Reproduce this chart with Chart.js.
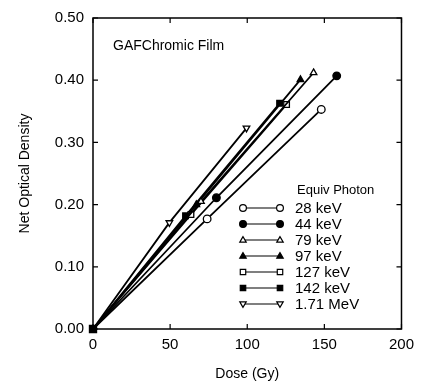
<!DOCTYPE html>
<html>
<head>
<meta charset="utf-8">
<script src="https://cdn.jsdelivr.net/npm/chart.js@4.4.1/dist/chart.umd.min.js"></script>
<style>
  html, body { margin: 0; padding: 0; background: #fff; }
  #wrap { width: 421px; height: 384px; }
</style>
</head>
<body>
<div id="wrap"><canvas id="odChart" width="421" height="384"></canvas></div>
<script>
// dose (Gy) and net optical density, origin included
const seriesNames = ['28 keV', '44 keV', '79 keV', '97 keV', '127 keV', '142 keV', '1.71 MeV'];
const dose28 = [0, 74, 148];        const od28 = [0, 0.177, 0.353];
const dose44 = [0, 80, 158];        const od44 = [0, 0.211, 0.407];
const dose79 = [0, 70, 143];        const od79 = [0, 0.205, 0.412];
const dose97 = [0, 67, 134.5];      const od97 = [0, 0.200, 0.401];
const dose127 = [0, 63.5, 125.5];   const od127 = [0, 0.184, 0.361];
const dose142 = [0, 60, 121];       const od142 = [0, 0.182, 0.363];
const dose171 = [0, 49.5, 99.5];    const od171 = [0, 0.171, 0.323];
const xTicks = [0, 50, 100, 150, 200];
const yTicks = [0, 0.1, 0.2, 0.3, 0.4, 0.5];

const FONT = '"Liberation Sans", Arial, sans-serif';

// marker per series: shape, filled?, rotation
const markers = [
    { style: 'circle', fill: false, rot: 0 },
    { style: 'circle', fill: true, rot: 0 },
    { style: 'triangle', fill: false, rot: 0 },
    { style: 'triangle', fill: true, rot: 0 },
    { style: 'rect', fill: false, rot: 0 },
    { style: 'rect', fill: true, rot: 0 },
    { style: 'triangle', fill: false, rot: 180 }
];
const doses = [dose28, dose44, dose79, dose97, dose127, dose142, dose171];
const ods = [od28, od44, od79, od97, od127, od142, od171];

const datasets = seriesNames.map((name, i) => {
    const m = markers[i];
    const isOriginSq = i === 5;
    return {
        label: name,
        data: doses[i].map((d, j) => ({ x: d, y: ods[i][j] })),
        borderColor: '#000',
        borderWidth: 1.8,
        showLine: true,
        clip: false,
        pointStyle: m.style,
        rotation: m.rot,
        pointRadius: doses[i].map((d, j) => j === 0 ? (isOriginSq ? 5 : 0) : (m.style === 'rect' ? 4 : 3.8)),
        pointBorderWidth: 1.3,
        pointBorderColor: '#000',
        pointBackgroundColor: m.fill ? '#000' : '#fff'
    };
});

function drawMarker(ctx, m, x, y, r) {
    ctx.save();
    ctx.beginPath();
    if (m.style === 'circle') {
        ctx.arc(x, y, r, 0, Math.PI * 2);
    } else if (m.style === 'rect') {
        ctx.rect(x - r * 0.8, y - r * 0.8, r * 1.6, r * 1.6);
    } else {
        const s = m.rot ? -1 : 1;
        ctx.moveTo(x, y - s * r);
        ctx.lineTo(x - r * 0.95, y + s * r * 0.65);
        ctx.lineTo(x + r * 0.95, y + s * r * 0.65);
        ctx.closePath();
    }
    ctx.fillStyle = m.fill ? '#000' : '#fff';
    ctx.fill();
    ctx.lineWidth = 1.2;
    ctx.strokeStyle = '#000';
    ctx.stroke();
    ctx.restore();
}

const framePlugin = {
    id: 'frame',
    afterDraw(chart) {
        const ctx = chart.ctx;
        const a = chart.chartArea;
        const xs = chart.scales.x, ys = chart.scales.y;
        ctx.save();
        ctx.strokeStyle = '#000';
        ctx.lineWidth = 1.5;
        ctx.strokeRect(a.left, a.top, a.right - a.left, a.bottom - a.top);
        ctx.lineWidth = 1.2;
        ctx.beginPath();
        xTicks.forEach(v => {
            const px = xs.getPixelForValue(v);
            ctx.moveTo(px, a.bottom); ctx.lineTo(px, a.bottom - 5);
            ctx.moveTo(px, a.top); ctx.lineTo(px, a.top + 5);
        });
        yTicks.forEach(v => {
            const py = ys.getPixelForValue(v);
            ctx.moveTo(a.left, py); ctx.lineTo(a.left + 5, py);
            ctx.moveTo(a.right, py); ctx.lineTo(a.right - 5, py);
        });
        ctx.stroke();

        // annotation
        ctx.fillStyle = '#000';
        ctx.font = '14px ' + FONT;
        ctx.textBaseline = 'middle';
        ctx.textAlign = 'left';
        ctx.fillText('GAFChromic Film', 113, 46);

        // legend
        ctx.font = '13px ' + FONT;
        ctx.fillText('Equiv Photon', 297, 190);
        ctx.font = '15px ' + FONT;
        seriesNames.forEach((name, i) => {
            const y = 208 + i * 16;
            ctx.beginPath();
            ctx.lineWidth = 1.1;
            ctx.moveTo(245, y); ctx.lineTo(278, y);
            ctx.stroke();
            drawMarker(ctx, markers[i], 243, y, 3.4);
            drawMarker(ctx, markers[i], 280, y, 3.4);
            ctx.fillText(name, 295, y + 1);
        });
        ctx.restore();
    }
};

const ctx = document.getElementById('odChart').getContext('2d');
const odChart = new Chart(ctx, {
    type: 'scatter',
    data: { datasets: datasets },
    options: {
        responsive: false,
        animation: false,
        devicePixelRatio: 1,
        layout: { padding: { top: 16, right: 18, left: 0, bottom: 0 } },
        plugins: { legend: { display: false }, tooltip: { enabled: false } },
        scales: {
            x: {
                type: 'linear', min: 0, max: 200,
                afterBuildTicks: s => { s.ticks = xTicks.map(v => ({ value: v })); },
                afterFit: s => { s.height = 55; },
                grid: { display: false, drawTicks: false },
                border: { display: false },
                ticks: { color: '#000', font: { family: FONT, size: 15 }, padding: 7, maxRotation: 0 },
                title: { display: true, text: 'Dose (Gy)', color: '#000', font: { family: FONT, size: 14 }, padding: { top: 4, bottom: 1 } }
            },
            y: {
                type: 'linear', min: 0, max: 0.5,
                afterBuildTicks: s => { s.ticks = yTicks.map(v => ({ value: v })); },
                afterFit: s => { s.width = 93; },
                grid: { display: false, drawTicks: false },
                border: { display: false },
                ticks: { color: '#000', font: { family: FONT, size: 15 }, padding: 9, callback: v => v.toFixed(2) },
                title: { display: true, text: 'Net Optical Density', color: '#000', font: { family: FONT, size: 14 }, padding: { top: 17, bottom: 0 } }
            }
        }
    },
    plugins: [framePlugin]
});
</script>
</body>
</html>
